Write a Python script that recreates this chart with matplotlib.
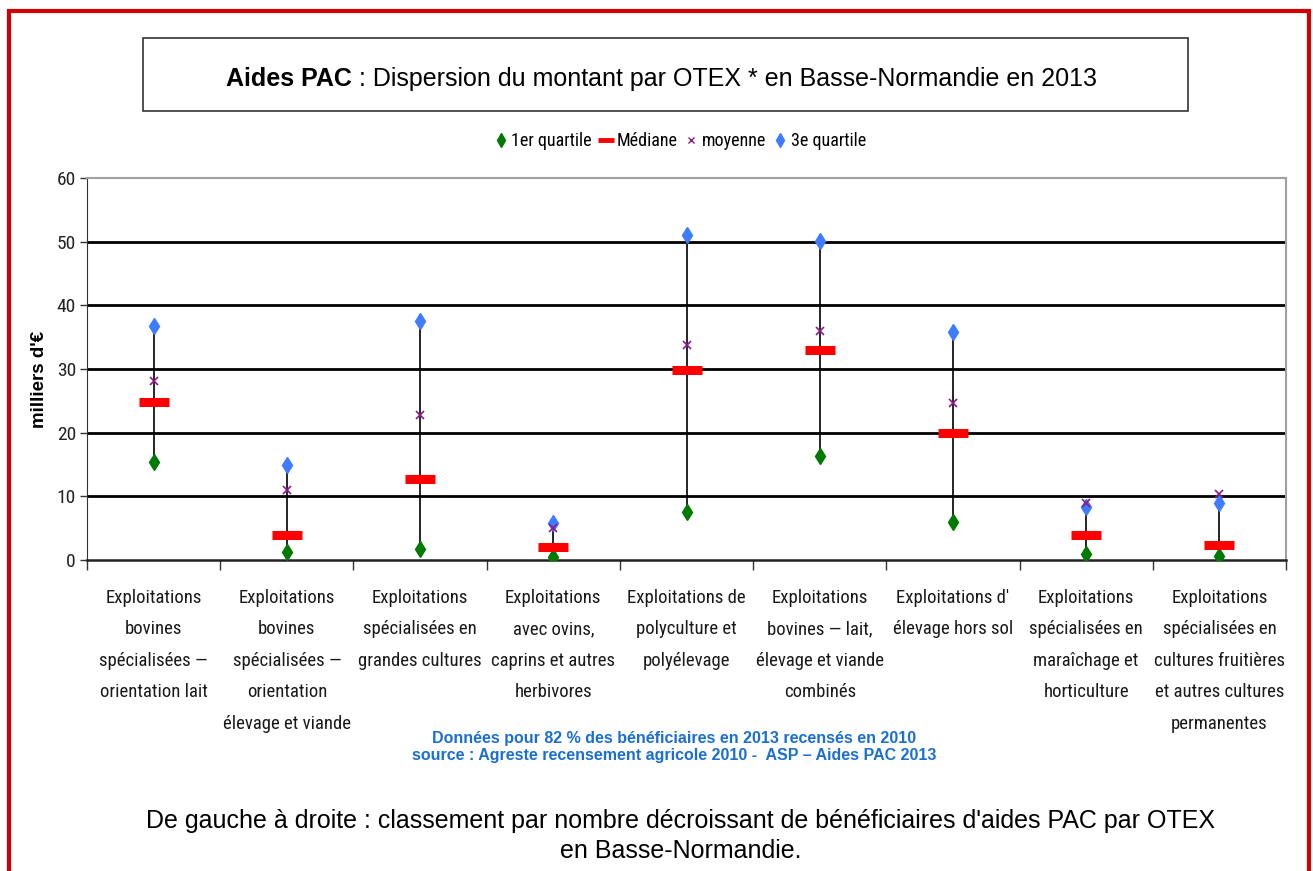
import matplotlib
matplotlib.use("Agg")
import matplotlib.pyplot as plt
from matplotlib import font_manager as fm
from matplotlib.lines import Line2D
from matplotlib.patches import Rectangle
import numpy as np

entries = fm.fontManager.ttflist
names = {f.name for f in entries}
NARROW = None
NARROW_STRETCH = "normal"
for cand in ["Liberation Sans Narrow", "Roboto Condensed", "Open Sans Condensed", "Arial Narrow"]:
    if cand in names:
        NARROW = cand
        break
if NARROW is None:
    for f in entries:
        if f.name in ("Liberation Sans", "Roboto", "Open Sans", "Noto Sans", "Lato", "Inter") and \
                str(f.stretch) in ("condensed", "semi-condensed", "extra-condensed"):
            NARROW, NARROW_STRETCH = f.name, f.stretch
            break
if NARROW is None:
    NARROW = "Liberation Sans"
REG = "Liberation Sans"

categories = [
    "Exploitations\nbovines\nspécialisées —\norientation lait",
    "Exploitations\nbovines\nspécialisées —\norientation\nélevage et viande",
    "Exploitations\nspécialisées en\ngrandes cultures",
    "Exploitations\navec ovins,\ncaprins et autres\nherbivores",
    "Exploitations de\npolyculture et\npolyélevage",
    "Exploitations\nbovines — lait,\nélevage et viande\ncombinés",
    "Exploitations d'\nélevage hors sol",
    "Exploitations\nspécialisées en\nmaraîchage et\nhorticulture",
    "Exploitations\nspécialisées en\ncultures fruitières\net autres cultures\npermanentes",
]
q1 = [15.4, 1.2, 1.8, 0.5, 7.5, 16.3, 5.9, 0.9, 0.6]
mediane = [24.8, 3.9, 12.7, 2.0, 29.8, 33.0, 20.0, 3.9, 2.4]
moyenne = [28.1, 11.0, 22.7, 5.0, 33.8, 36.0, 24.6, 8.9, 10.3]
q3 = [36.8, 14.9, 37.6, 5.8, 51.0, 50.1, 35.8, 8.3, 8.9]
yticks = [0, 10, 20, 30, 40, 50, 60]

W, H = 1313, 871
fig = plt.figure(figsize=(W / 100, H / 100), dpi=100)

def fx(p): return p / W
def fy(p): return 1 - p / H

NF = dict(family=NARROW, fontstretch=NARROW_STRETCH)

# red frame
fig.add_artist(Rectangle((fx(9), fy(871 + 20)), fx(1300), (871 + 20 - 11) / H,
                         transform=fig.transFigure, fill=False, edgecolor="#d40000", lw=3))

# title box
fig.add_artist(Rectangle((fx(143), fy(111)), fx(1188 - 143), (111 - 38) / H,
                         transform=fig.transFigure, fill=False, edgecolor="#333333", lw=1.2))
renderer = fig.canvas.get_renderer()
t1 = fig.text(fx(226), fy(79), "Aides PAC", fontsize=18, fontweight="bold",
              ha="left", va="center", family=REG)
bb = t1.get_window_extent(renderer)
fig.text(bb.x1 / W, fy(79), " : Dispersion du montant par OTEX * en Basse-Normandie en 2013",
         fontsize=18, ha="left", va="center", family=REG)

ax = fig.add_axes([fx(87), fy(560), fx(1286 - 87), (560 - 178) / H])
x = np.arange(len(categories))
ax.set_xlim(-0.5, len(categories) - 0.5)
ax.set_ylim(0, 60)

ax.vlines(x, q1, q3, color="black", lw=1.2, zorder=2)
ax.plot(x, q1, ls="none", marker="d", ms=8.5, color="#007a00", mec="#007a00", zorder=3)
ax.plot(x, q3, ls="none", marker="d", ms=8.5, color="#3d7bff", mec="#3d7bff", zorder=3)
ax.plot(x, mediane, ls="none", marker="_", ms=21, mew=6.5, color="#ff0000", zorder=4)
ax.plot(x, moyenne, ls="none", marker="x", ms=5.5, mew=1.2, color="#8a1a8a", zorder=5)

ax.set_yticks(yticks)
ax.set_yticklabels([str(v) for v in yticks], fontsize=14, color="#222222", **NF)
ax.tick_params(axis="y", direction="out", length=5, width=1, pad=3, color="#333333")
for v in yticks[1:-1]:
    ax.axhline(v, color="black", lw=2, zorder=1)
ax.set_xticks(np.arange(len(categories) + 1) - 0.5, minor=False)
ax.set_xticklabels([])
ax.tick_params(axis="x", direction="out", length=7, width=1, color="#333333")
for s in ["top", "right"]:
    ax.spines[s].set_color("#a0a0a0")
    ax.spines[s].set_linewidth(1.5)
ax.spines["left"].set_color("#333333")
ax.spines["bottom"].set_color("#222222")
ax.spines["bottom"].set_linewidth(1.8)

for i, c in enumerate(categories):
    ax.text(i, -4.5, c, transform=ax.transData, ha="center", va="top",
            fontsize=13.5, linespacing=1.97, color="#1a1a1a", **NF)

fig.text(fx(40), fy(379), "milliers d'€", rotation=90, ha="center", va="center",
         fontsize=13.5, fontweight="bold", family=REG)

handles = [
    Line2D([], [], ls="none", marker="d", ms=7, color="#007a00"),
    Line2D([], [], ls="none", marker="_", ms=12, mew=3.5, color="#ff0000"),
    Line2D([], [], ls="none", marker="x", ms=5, mew=1, color="#8a1a8a"),
    Line2D([], [], ls="none", marker="d", ms=7, color="#3d7bff"),
]
labels = ["1er quartile", "Médiane", "moyenne", "3e quartile"]
fig.legend(handles, labels, loc="center", bbox_to_anchor=(fx(680), fy(141)), ncol=4,
           frameon=False, prop={"family": NARROW, "stretch": NARROW_STRETCH, "size": 13},
           handlelength=0.7, handletextpad=0.25, columnspacing=0.4)

fig.text(fx(674), fy(747), "Données pour 82 % des bénéficiaires en 2013 recensés en 2010\n"
         "source : Agreste recensement agricole 2010 -  ASP – Aides PAC 2013",
         ha="center", va="center", fontsize=11.5, fontweight="bold", family=REG,
         color="#1a6fd0", linespacing=1.12)
fig.text(fx(681), fy(836), "De gauche à droite : classement par nombre décroissant de bénéficiaires d'aides PAC par OTEX\n"
         "en Basse-Normandie.", ha="center", va="center", fontsize=18, color="black",
         linespacing=1.32, family=REG)

fig.savefig("out.png", dpi=100)
